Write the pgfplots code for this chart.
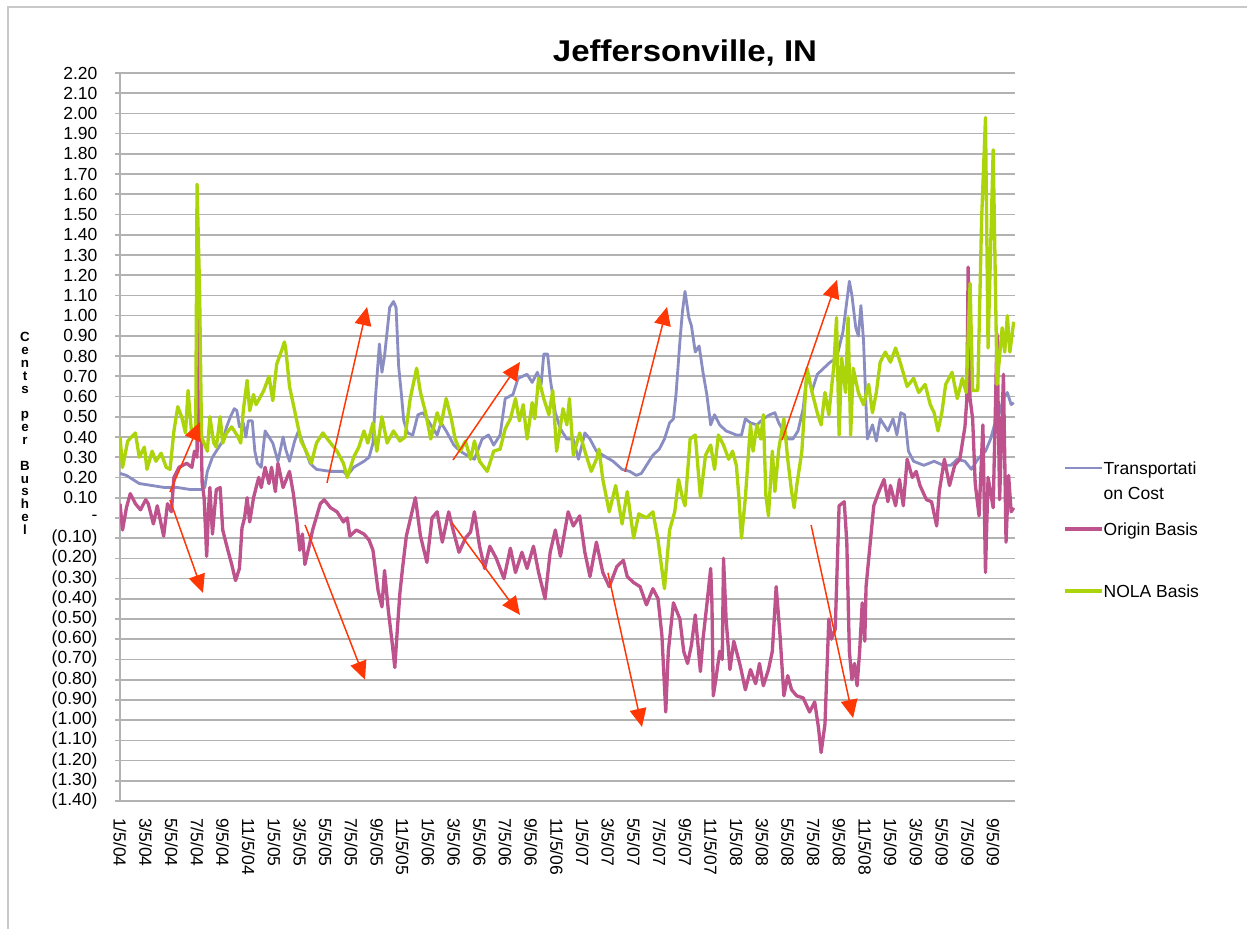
\documentclass[border=0pt]{standalone}
\usepackage{pgfplots}
\pgfplotsset{compat=1.18}
\usepackage{graphicx}
\usepackage{fontspec}
\setmainfont{Liberation Sans}
\usetikzlibrary{arrows.meta}
\definecolor{tcost}{RGB}{138,141,194}
\definecolor{origin}{RGB}{190,82,140}
\definecolor{nola}{RGB}{172,212,10}
\definecolor{arr}{RGB}{255,55,5}
\definecolor{gridc}{RGB}{178,178,178}
\definecolor{framec}{RGB}{200,200,200}
\begin{document}
\begin{tikzpicture}
\useasboundingbox (-72pt,-76.2pt) rectangle (676.2pt,480.6pt);
\draw[framec, line width=1.2pt] (-67.2pt,-80pt) -- (-67.2pt,476.4pt) -- (690pt,476.4pt);
\begin{axis}[
  at={(0,0)}, anchor=south west,
  scale only axis, width=537pt, height=436.8pt,
  xmin=0, xmax=69.7, ymin=-1.4, ymax=2.2,
  axis lines*=left,
  axis line style={draw=gridc, line width=1.2pt},
  ymajorgrids, grid style={draw=gridc, line width=1pt},
  tick align=outside, major tick length=3pt,
  xtick={0,2,...,68},
  xticklabels={1/5/04,3/5/04,5/5/04,7/5/04,9/5/04,11/5/04,1/5/05,3/5/05,5/5/05,7/5/05,9/5/05,11/5/05,1/5/06,3/5/06,5/5/06,7/5/06,9/5/06,11/5/06,1/5/07,3/5/07,5/5/07,7/5/07,9/5/07,11/5/07,1/5/08,3/5/08,5/5/08,7/5/08,9/5/08,11/5/08,1/5/09,3/5/09,5/5/09,7/5/09,9/5/09},
  xtick style={draw=none},
  xticklabel style={rotate=-90, anchor=west, font=\fontsize{10.5}{12}\selectfont, inner xsep=7pt},
  ytick={-1.4,-1.3,-1.2,-1.1,-1.0,-0.9,-0.8,-0.7,-0.6,-0.5,-0.4,-0.3,-0.2,-0.1,0,0.1,0.2,0.3,0.4,0.5,0.6,0.7,0.8,0.9,1.0,1.1,1.2,1.3,1.4,1.5,1.6,1.7,1.8,1.9,2.0,2.1,2.2},
  yticklabels={(1.40),(1.30),(1.20),(1.10),(1.00),(0.90),(0.80),(0.70),(0.60),(0.50),(0.40),(0.30),(0.20),(0.10),{-\hspace{0.75em}},0.10,0.20,0.30,0.40,0.50,0.60,0.70,0.80,0.90,1.00,1.10,1.20,1.30,1.40,1.50,1.60,1.70,1.80,1.90,2.00,2.10,2.20},
  ytick style={draw=gridc, line width=1pt},
  yticklabel style={font=\fontsize{10.5}{12}\selectfont, xshift=-7pt},
]
% Transportation Cost
\addplot[tcost, line width=1.7pt, line join=round] coordinates {
(0,0.22)(0.5,0.21)(1.0,0.19)(1.5,0.17)(2.5,0.16)(3.5,0.15)(4.5,0.15)(5.5,0.14)(6.3,0.14)(6.6,0.15)
(6.8,0.23)(7.2,0.30)(7.6,0.34)(8.0,0.38)(8.3,0.45)(8.6,0.50)(8.9,0.54)(9.1,0.53)(9.3,0.45)(9.6,0.47)
(9.8,0.40)(10.0,0.48)(10.3,0.48)(10.5,0.33)(10.7,0.27)(11.0,0.25)(11.3,0.43)(11.6,0.40)(11.9,0.37)(12.3,0.28)
(12.7,0.40)(12.9,0.34)(13.2,0.28)(13.6,0.38)(13.9,0.43)(14.3,0.36)(14.8,0.27)(15.3,0.24)(16.4,0.23)(17.0,0.23)
(17.4,0.23)(17.7,0.21)(18.2,0.25)(19.0,0.28)(19.4,0.30)(19.7,0.37)(19.9,0.60)(20.2,0.86)(20.4,0.72)(20.6,0.80)
(21.0,1.04)(21.3,1.07)(21.5,1.04)(21.7,0.75)(21.9,0.62)(22.1,0.48)(22.4,0.42)(22.8,0.41)(23.2,0.51)(23.6,0.52)
(24.0,0.48)(24.4,0.44)(24.7,0.41)(25.0,0.47)(25.4,0.43)(26.0,0.36)(26.5,0.33)(27.0,0.31)(27.6,0.29)(28.2,0.39)
(28.7,0.41)(29.1,0.36)(29.6,0.41)(30.0,0.59)(30.6,0.61)(31.0,0.69)(31.7,0.71)(32.1,0.67)(32.5,0.72)(32.8,0.66)
(33.0,0.81)(33.3,0.81)(33.5,0.69)(33.9,0.52)(34.3,0.44)(34.8,0.39)(35.3,0.39)(35.7,0.29)(36.2,0.42)(36.6,0.39)
(37.1,0.33)(37.6,0.31)(38.4,0.28)(39.1,0.24)(39.7,0.23)(40.2,0.21)(40.6,0.22)(41.0,0.26)(41.5,0.31)(42.0,0.34)
(42.4,0.39)(42.8,0.47)(43.1,0.49)(43.3,0.61)(43.6,0.87)(43.8,1.02)(44.0,1.12)(44.3,0.99)(44.5,0.95)(44.8,0.82)
(45.1,0.85)(45.4,0.72)(45.7,0.61)(46.0,0.46)(46.3,0.51)(46.7,0.46)(47.2,0.43)(48.0,0.41)(48.4,0.41)(48.7,0.49)
(49.1,0.47)(49.6,0.46)(50.1,0.49)(50.6,0.51)(51.0,0.52)(51.3,0.47)(52.0,0.39)(52.4,0.39)(52.8,0.43)(53.2,0.54)
(53.5,0.71)(53.9,0.63)(54.3,0.71)(54.8,0.74)(55.3,0.77)(55.8,0.79)(56.3,0.92)(56.8,1.17)(57.0,1.10)(57.3,0.94)
(57.5,0.90)(57.7,1.05)(57.9,0.88)(58.1,0.55)(58.2,0.39)(58.6,0.46)(58.9,0.38)(59.2,0.49)(59.8,0.43)(60.2,0.49)
(60.5,0.41)(60.8,0.52)(61.1,0.51)(61.4,0.33)(61.8,0.28)(62.6,0.26)(63.4,0.28)(64.1,0.26)(64.7,0.26)(65.2,0.29)
(65.8,0.28)(66.3,0.24)(66.8,0.29)(67.4,0.33)(67.8,0.39)(68.1,0.46)(68.4,0.50)(68.8,0.59)(69.1,0.62)(69.4,0.56)(69.6,0.57)
};
% Origin Basis
\addplot[origin, line width=2pt, line join=round] coordinates {
(0.0,0.07)(0.2,-0.06)(0.5,0.05)(0.8,0.12)(1.2,0.07)(1.6,0.04)(2.0,0.09)(2.2,0.07)(2.6,-0.03)(2.9,0.06)
(3.1,0.00)(3.4,-0.09)(3.7,0.07)(4.0,0.03)(4.2,0.20)(4.6,0.25)(5.2,0.27)(5.6,0.25)(5.8,0.33)(6.0,0.30)
(6.1,1.25)(6.25,0.60)(6.4,0.17)(6.55,0.10)(6.75,-0.19)(6.9,0.05)(7.0,0.15)(7.2,-0.08)(7.5,0.14)(7.8,0.15)
(8.0,-0.06)(8.4,-0.16)(8.7,-0.23)(9.0,-0.31)(9.3,-0.25)(9.5,-0.05)(9.7,0.00)(9.9,0.10)(10.1,-0.02)(10.4,0.10)
(10.8,0.20)(11.0,0.15)(11.3,0.25)(11.6,0.17)(11.8,0.25)(12.1,0.13)(12.3,0.27)(12.7,0.15)(13.2,0.23)(13.5,0.12)
(13.8,-0.03)(14.0,-0.16)(14.2,-0.08)(14.4,-0.23)(14.8,-0.12)(15.0,-0.06)(15.6,0.07)(15.9,0.09)(16.4,0.05)(16.9,0.03)
(17.4,-0.02)(17.7,0.00)(17.9,-0.09)(18.4,-0.06)(19.0,-0.08)(19.4,-0.11)(19.7,-0.16)(20.1,-0.36)(20.4,-0.44)(20.6,-0.26)
(20.9,-0.46)(21.2,-0.62)(21.4,-0.74)(21.6,-0.55)(21.8,-0.37)(22.0,-0.25)(22.3,-0.09)(23.0,0.10)(23.4,-0.09)(23.9,-0.22)
(24.3,0.00)(24.7,0.03)(25.1,-0.12)(25.6,0.03)(25.9,-0.05)(26.4,-0.17)(26.9,-0.10)(27.3,-0.07)(27.6,0.03)(28.0,-0.14)
(28.4,-0.25)(28.8,-0.14)(29.3,-0.20)(29.9,-0.30)(30.4,-0.15)(30.8,-0.27)(31.3,-0.17)(31.7,-0.25)(32.2,-0.14)(32.6,-0.27)
(33.1,-0.40)(33.5,-0.17)(33.9,-0.06)(34.3,-0.19)(34.9,0.03)(35.3,-0.04)(35.8,0.01)(36.2,-0.17)(36.6,-0.29)(37.1,-0.12)
(37.6,-0.27)(38.1,-0.34)(38.7,-0.24)(39.2,-0.21)(39.5,-0.29)(40.0,-0.32)(40.5,-0.34)(41.0,-0.43)(41.5,-0.35)(41.9,-0.40)
(42.2,-0.58)(42.5,-0.96)(42.7,-0.66)(43.1,-0.42)(43.6,-0.50)(43.9,-0.66)(44.2,-0.72)(44.5,-0.63)(44.8,-0.48)(45.2,-0.76)
(45.4,-0.60)(45.7,-0.43)(46.0,-0.25)(46.1,-0.43)(46.2,-0.88)(46.4,-0.80)(46.7,-0.66)(46.9,-0.70)(47.0,-0.20)(47.2,-0.50)
(47.5,-0.75)(47.8,-0.61)(48.3,-0.73)(48.7,-0.85)(49.1,-0.75)(49.5,-0.82)(49.8,-0.72)(50.1,-0.83)(50.5,-0.75)(50.8,-0.66)
(51.1,-0.34)(51.4,-0.58)(51.7,-0.88)(52.0,-0.78)(52.3,-0.85)(52.7,-0.88)(53.2,-0.89)(53.7,-0.96)(54.1,-0.91)(54.4,-1.04)
(54.6,-1.16)(54.9,-1.02)(55.2,-0.50)(55.4,-0.60)(55.7,-0.55)(56.0,0.06)(56.4,0.08)(56.6,-0.12)(56.8,-0.66)(57.0,-0.80)
(57.2,-0.72)(57.4,-0.83)(57.6,-0.66)(57.8,-0.42)(58.0,-0.61)(58.1,-0.34)(58.4,-0.14)(58.7,0.06)(59.1,0.13)(59.5,0.19)
(59.8,0.08)(60.0,0.16)(60.4,0.06)(60.7,0.19)(61.0,0.06)(61.3,0.29)(61.7,0.20)(62.0,0.23)(62.3,0.16)(62.8,0.09)
(63.2,0.08)(63.6,-0.04)(63.8,0.13)(64.2,0.29)(64.6,0.16)(65.0,0.26)(65.4,0.29)(65.8,0.45)(65.95,0.59)(66.05,1.24)
(66.2,0.59)(66.4,0.49)(66.6,0.17)(66.9,0.01)(67.2,0.46)(67.4,-0.27)(67.6,0.20)(68.0,0.05)(68.3,0.91)(68.5,0.09)
(68.8,0.71)(69.0,-0.12)(69.2,0.21)(69.4,0.03)(69.6,0.05)
};
% NOLA Basis
\addplot[nola, line width=2pt, line join=round] coordinates {
(0.0,0.40)(0.2,0.25)(0.6,0.38)(1.2,0.42)(1.5,0.30)(1.9,0.35)(2.1,0.24)(2.5,0.33)(2.8,0.28)(3.2,0.32)
(3.6,0.25)(3.9,0.24)(4.2,0.43)(4.5,0.55)(4.8,0.50)(5.1,0.42)(5.3,0.63)(5.6,0.40)(5.9,0.45)(6.0,1.65)
(6.2,1.12)(6.35,0.40)(6.8,0.33)(7.0,0.50)(7.3,0.37)(7.5,0.35)(7.8,0.50)(8.0,0.37)(8.3,0.42)(8.7,0.45)
(9.2,0.40)(9.4,0.37)(9.6,0.53)(9.9,0.68)(10.1,0.53)(10.4,0.61)(10.6,0.56)(11.2,0.63)(11.6,0.70)(11.9,0.58)
(12.2,0.76)(12.6,0.83)(12.8,0.87)(12.9,0.84)(13.2,0.65)(13.6,0.53)(14.1,0.38)(14.5,0.33)(14.9,0.27)(15.3,0.37)
(15.8,0.42)(16.4,0.37)(16.9,0.33)(17.4,0.27)(17.7,0.20)(18.2,0.30)(18.6,0.35)(19.0,0.43)(19.3,0.37)(19.7,0.47)
(20.0,0.33)(20.4,0.50)(20.8,0.37)(21.3,0.43)(21.8,0.38)(22.2,0.40)(22.6,0.59)(23.1,0.74)(23.4,0.62)(23.8,0.52)
(24.2,0.39)(24.7,0.52)(25.0,0.46)(25.4,0.59)(25.8,0.49)(26.1,0.39)(26.5,0.33)(26.9,0.38)(27.3,0.29)(27.6,0.38)
(28.0,0.28)(28.6,0.23)(29.1,0.33)(29.6,0.34)(30.0,0.44)(30.4,0.49)(30.8,0.59)(31.1,0.48)(31.4,0.56)(31.7,0.39)
(32.1,0.57)(32.3,0.49)(32.6,0.69)(33.0,0.59)(33.4,0.51)(33.7,0.63)(34.0,0.33)(34.5,0.54)(34.8,0.46)(35.0,0.59)
(35.3,0.31)(35.8,0.42)(36.2,0.33)(36.7,0.23)(37.1,0.29)(37.3,0.34)(37.6,0.19)(38.1,0.03)(38.6,0.16)(39.1,-0.03)
(39.5,0.13)(40.0,-0.10)(40.4,0.02)(41.0,0.00)(41.5,0.03)(41.9,-0.11)(42.4,-0.35)(42.8,-0.06)(43.2,0.03)(43.5,0.19)
(43.8,0.10)(44.0,0.06)(44.4,0.39)(44.8,0.41)(45.2,0.10)(45.6,0.31)(46.0,0.36)(46.3,0.24)(46.6,0.41)(47.0,0.36)
(47.4,0.29)(47.7,0.33)(48.0,0.26)(48.2,0.10)(48.4,-0.10)(48.7,0.10)(49.1,0.46)(49.3,0.33)(49.6,0.46)(49.9,0.39)
(50.1,0.51)(50.3,0.11)(50.5,0.01)(50.8,0.33)(51.0,0.13)(51.3,0.34)(51.7,0.49)(52.0,0.29)(52.3,0.13)(52.5,0.05)
(52.7,0.16)(53.1,0.33)(53.5,0.74)(53.9,0.62)(54.3,0.52)(54.6,0.46)(54.9,0.62)(55.2,0.51)(55.6,0.76)(55.8,0.99)
(56.0,0.41)(56.2,0.79)(56.5,0.62)(56.7,0.99)(56.9,0.41)(57.1,0.74)(57.5,0.62)(57.9,0.56)(58.3,0.66)(58.6,0.52)
(58.9,0.62)(59.2,0.77)(59.6,0.82)(60.0,0.77)(60.4,0.84)(60.8,0.76)(61.3,0.65)(61.8,0.69)(62.2,0.62)(62.7,0.66)
(63.1,0.56)(63.4,0.52)(63.7,0.43)(64.0,0.52)(64.3,0.66)(64.8,0.72)(65.2,0.59)(65.6,0.69)(65.9,0.62)(66.2,1.16)
(66.4,0.63)(66.8,0.63)(67.1,1.48)(67.4,1.98)(67.6,0.84)(68.0,1.82)(68.3,0.66)(68.7,0.94)(68.9,0.82)(69.1,1.00)
(69.3,0.82)(69.6,0.97)
};
% red annotation arrows
\begin{scope}[arr, line width=0.9pt, -{Triangle[length=11pt, width=10pt]}]
\draw (axis cs:3.89,0.128) -- (axis cs:6.23,0.474);
\draw (axis cs:3.89,0.089) -- (axis cs:6.46,-0.371);
\draw (axis cs:16.12,0.173) -- (axis cs:19.24,1.043);
\draw (axis cs:14.41,-0.035) -- (axis cs:19.08,-0.80);
\draw (axis cs:25.93,0.286) -- (axis cs:31.15,0.771);
\draw (axis cs:25.86,-0.025) -- (axis cs:31.15,-0.48);
\draw (axis cs:39.33,0.227) -- (axis cs:42.6,1.043);
\draw (axis cs:38.0,-0.272) -- (axis cs:40.65,-1.034);
\draw (axis cs:51.56,0.385) -- (axis cs:55.84,1.177);
\draw (axis cs:53.82,-0.035) -- (axis cs:57.09,-0.99);
\end{scope}
\end{axis}
% title
\node[anchor=base, inner sep=0pt, font=\fontsize{18}{20}\selectfont\bfseries] at (339pt,443.4pt) {\scalebox{1.1}[1]{Jeffersonville, IN}};
% stacked y label
\node[align=center, inner sep=0pt, font=\fontsize{8}{7.7}\selectfont\bfseries] at (-57pt,220.5pt) {C\\e\\n\\t\\s\\~\\p\\e\\r\\~\\B\\u\\s\\h\\e\\l};
% legend
\draw[tcost, line width=1.7pt] (567pt,199.8pt) -- (589pt,199.8pt);
\draw[origin, line width=2pt] (567pt,163.2pt) -- (589pt,163.2pt);
\draw[nola, line width=2pt] (567pt,126pt) -- (589pt,126pt);
\begin{scope}[every node/.style={anchor=base west, inner sep=0pt, font=\fontsize{10.5}{12}\selectfont}]
\node at (590pt,196pt) {Transportati};
\node at (590pt,181pt) {on Cost};
\node at (590pt,159.4pt) {Origin Basis};
\node at (590pt,122.2pt) {NOLA Basis};
\end{scope}
\end{tikzpicture}
\end{document}
